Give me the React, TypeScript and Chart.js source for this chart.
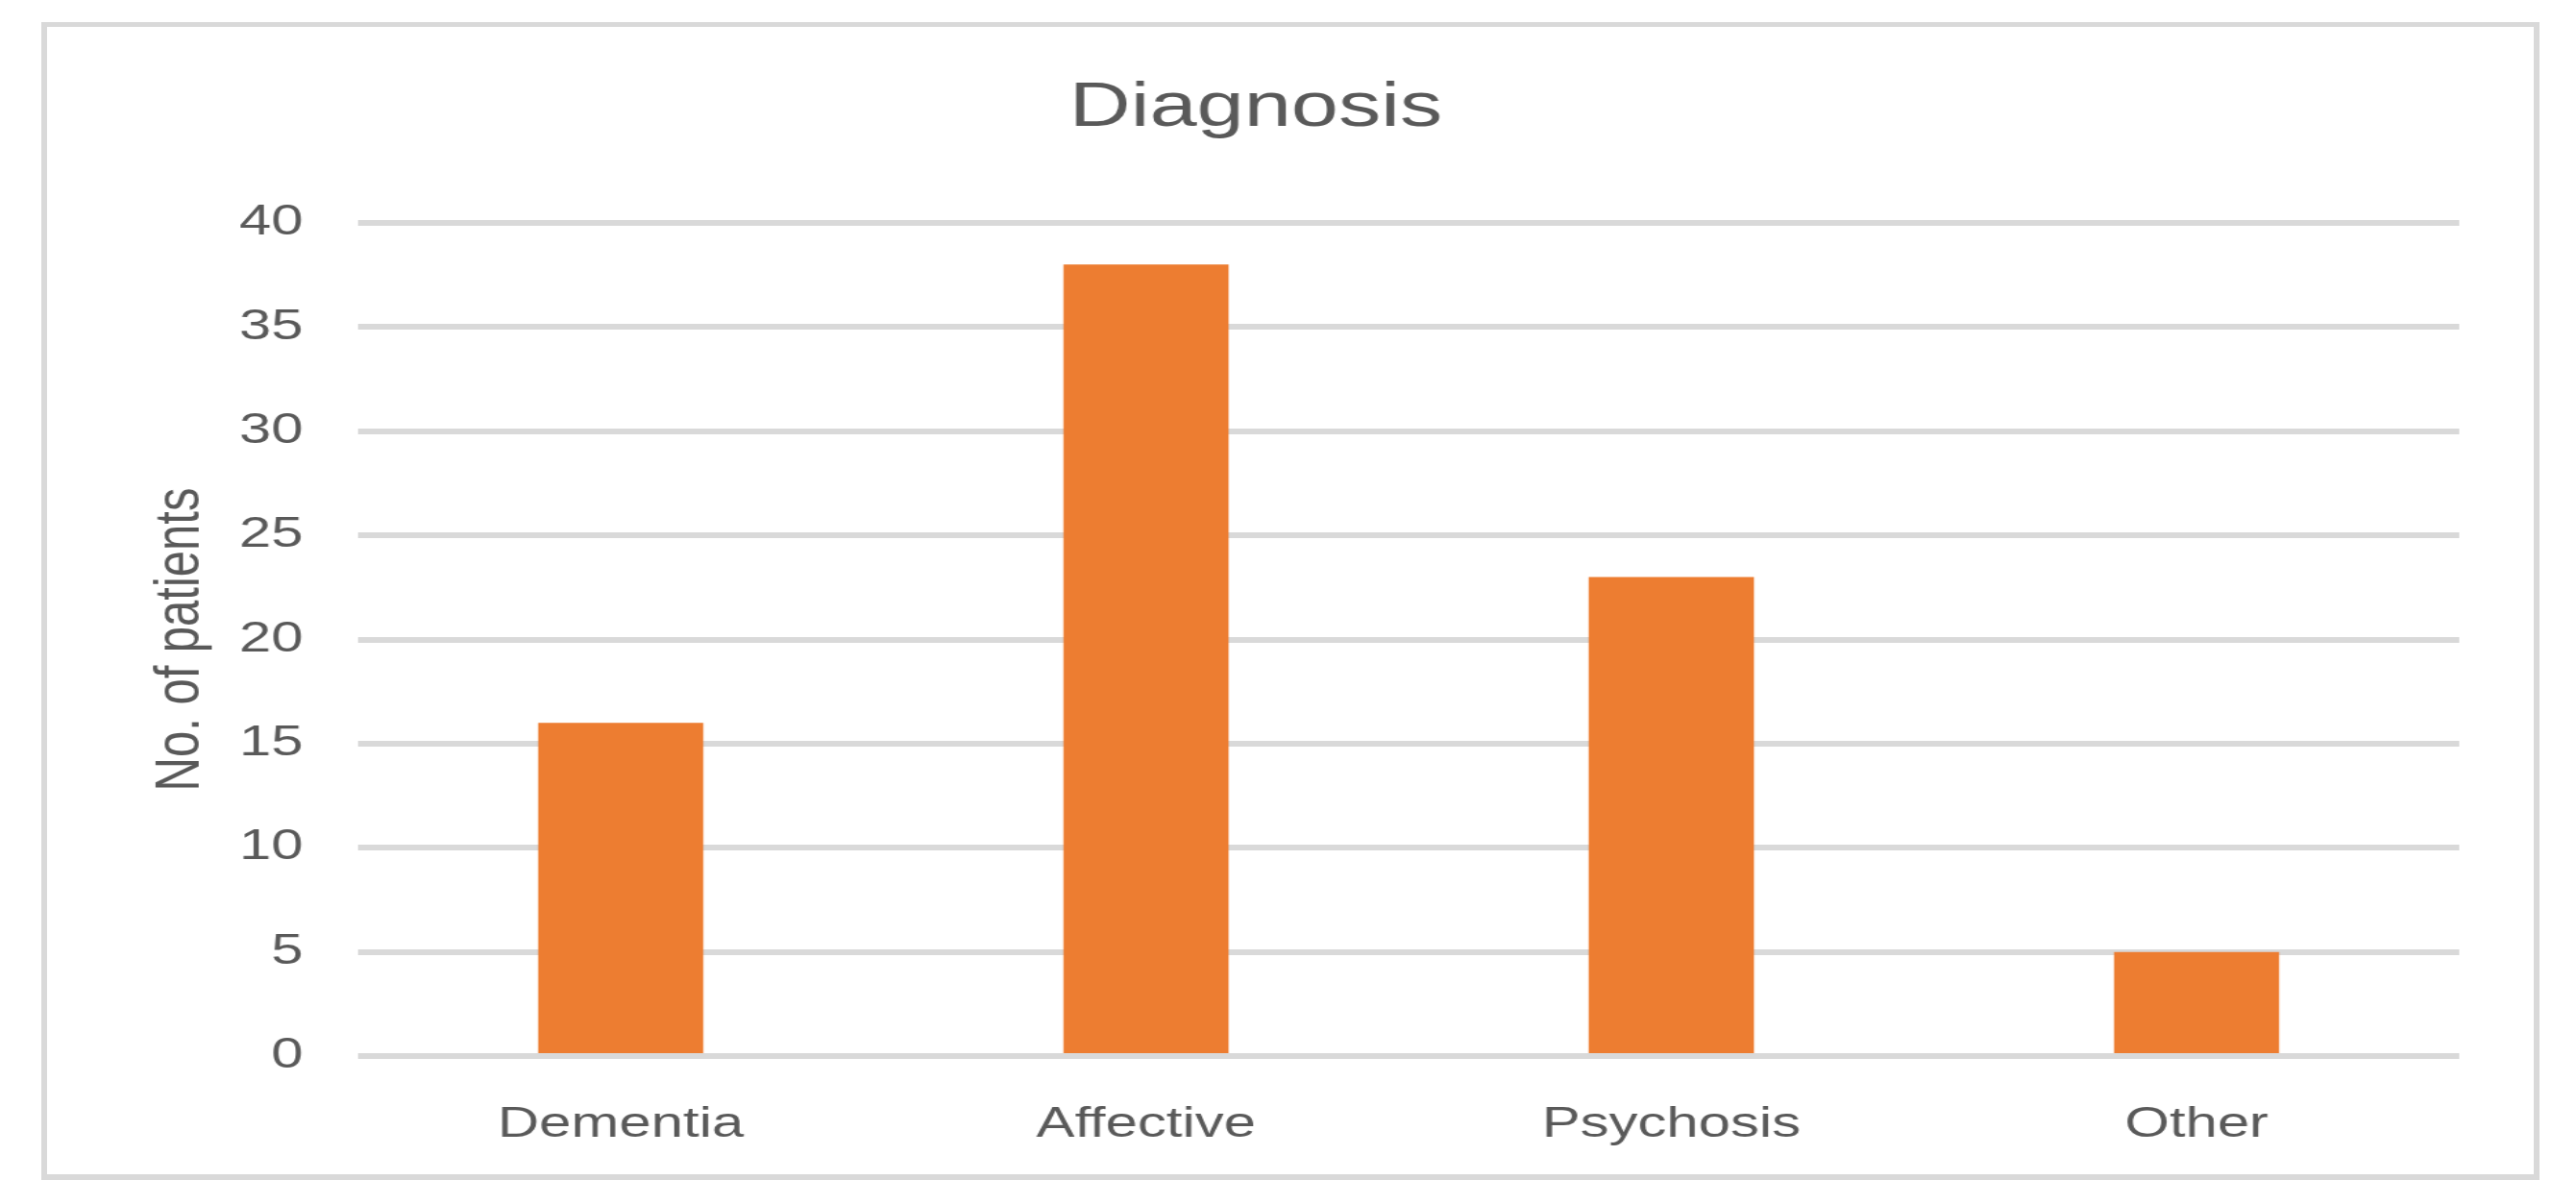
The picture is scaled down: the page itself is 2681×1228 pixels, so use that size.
import React, { useEffect, useRef } from "react";
import { Chart, registerables } from "chart.js";

Chart.register(...registerables);

const categories = ["Dementia", "Affective", "Psychosis", "Other"];
const patientCounts = [16, 38, 23, 5];
const yTickValues = [0, 5, 10, 15, 20, 25, 30, 35, 40];
const chartTitle = "Diagnosis";
const yAxisTitle = "No. of patients";

const CSS_W = 2588;
const CSS_H = 1194;
const INTERNAL_W = 1903; // canvas drawn narrower, then stretched horizontally like the reference
const TEXT = "#595959";
const GRID = "#d9d9d9";
const FONT = "'Liberation Sans', Arial, sans-serif";

export default function App() {
  const ref = useRef<HTMLCanvasElement | null>(null);

  useEffect(() => {
    const canvas = ref.current;
    if (!canvas) return;
    const chart = new Chart(canvas, {
      type: "bar",
      data: {
        labels: categories,
        datasets: [
          {
            label: "Patients",
            data: patientCounts,
            backgroundColor: "#ED7D31",
            borderWidth: 0,
            categoryPercentage: 1,
            barPercentage: 0.3145,
          },
        ],
      },
      options: {
        responsive: false,
        animation: false,
        devicePixelRatio: 1,
        layout: { padding: { left: 4, right: 57, top: 0, bottom: 0 } },
        plugins: {
          legend: { display: false },
          tooltip: { enabled: false },
          title: {
            display: true,
            text: chartTitle,
            color: TEXT,
            font: { family: FONT, size: 65, weight: "normal", lineHeight: 1.2 },
            padding: { top: 46, bottom: 80 },
          },
        },
        scales: {
          x: {
            grid: { display: false },
            border: { display: false },
            ticks: {
              color: TEXT,
              font: { family: FONT, size: 44, lineHeight: 1.2 },
              padding: 37,
              maxRotation: 0,
            },
            afterFit: (s: any) => {
              s.height = 123;
            },
          },
          y: {
            min: 0,
            max: 40,
            grid: { color: GRID, lineWidth: 6, drawTicks: false },
            border: { display: false },
            ticks: {
              color: TEXT,
              font: { family: FONT, size: 44, lineHeight: 1.2 },
              padding: 42,
            },
            afterBuildTicks: (s: any) => {
              s.ticks = yTickValues.map((v) => ({ value: v }));
            },
            title: {
              display: true,
              text: yAxisTitle,
              color: TEXT,
              font: { family: FONT, size: 49, lineHeight: 1.2 },
              padding: { top: 69, bottom: 0 },
            },
            afterFit: (s: any) => {
              s.width = 234;
            },
          },
        },
      },
    });
    return () => chart.destroy();
  }, []);

  return (
    <div
      style={{
        position: "absolute",
        left: 43,
        top: 23,
        width: 2600,
        height: 1205,
        boxSizing: "border-box",
        borderStyle: "solid",
        borderColor: GRID,
        borderWidth: "5px 6px 6px 6px",
        background: "#fff",
      }}
    >
      <canvas
        ref={ref}
        width={INTERNAL_W}
        height={CSS_H}
        style={{ display: "block", width: CSS_W + "px", height: CSS_H + "px" }}
      />
    </div>
  );
}
